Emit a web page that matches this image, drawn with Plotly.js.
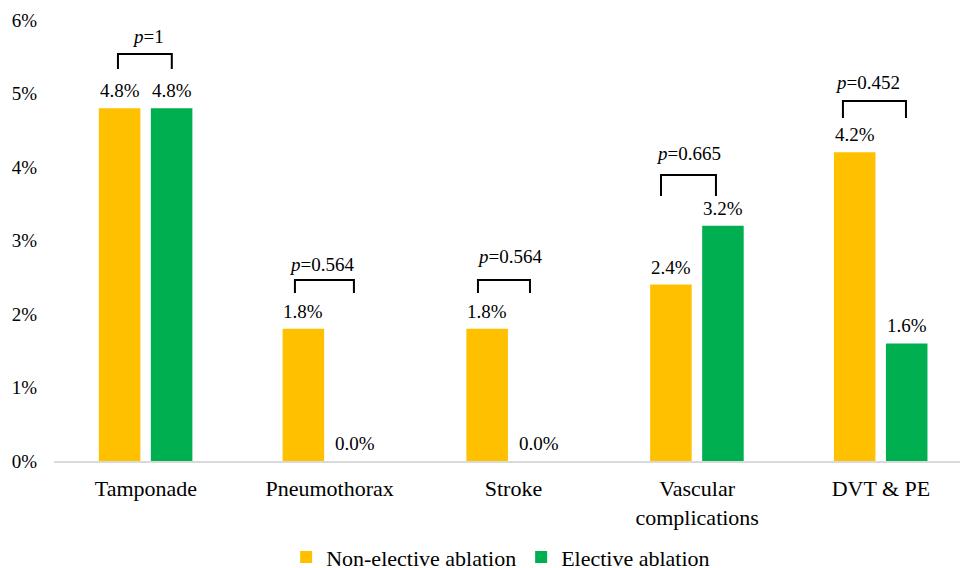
<!DOCTYPE html>
<html>
<head>
<meta charset="utf-8">
<script src="https://cdn.plot.ly/plotly-3.0.1.min.js"></script>
<style>
html,body{margin:0;padding:0;background:#fff;}
#chart{width:960px;height:568px;}
#chart svg text, #chart svg tspan{font-family:'Liberation Serif','Times New Roman',serif !important;}
</style>
</head>
<body>
<div id="chart"></div>
<script>
// ---- data ----
const categories = ["Tamponade", "Pneumothorax", "Stroke", "Vascular<br>complications", "DVT & PE"];
const nonElective = [4.8, 1.8, 1.8, 2.4, 4.2];
const elective = [4.8, 0.0, 0.0, 3.2, 1.6];
const seriesNames = ["Non-elective ablation", "Elective ablation"];
const pValues = ["1", "0.564", "0.564", "0.665", "0.452"];
// bracket geometry (x relative to category centre, y in % units)
const bracketLeft = [-0.152, -0.189, -0.193, -0.197, -0.207];
const bracketRight = [0.141, 0.132, 0.090, 0.102, 0.136];
const bracketTop = [5.537, 2.463, 2.463, 3.891, 4.898];
const bracketBottom = [5.333, 2.286, 2.286, 3.605, 4.667];
const pTextX = [0.011, -0.042, -0.019, -0.050, -0.076];
const pTextY = [5.769, 2.680, 2.776, 4.177, 5.143];

// ---- style ----
const serifFamily = "Liberation Serif";
const colors = ["#FFC000", "#00B050"];
const barWidth = 0.226;
const offsets = [-0.256, 0.027];

const idx = categories.map((c, i) => i);
const traces = [nonElective, elective].map((vals, s) => ({
  type: "bar",
  name: seriesNames[s],
  x: idx,
  y: vals,
  width: barWidth,
  offset: offsets[s],
  marker: {color: colors[s]},
  hoverinfo: "skip"
}));

const annotations = [];
const shapes = [];
[nonElective, elective].forEach((vals, s) => {
  vals.forEach((v, i) => {
    annotations.push({
      x: i + offsets[s] + barWidth / 2, y: v, xref: "x", yref: "y",
      text: v.toFixed(1) + "%", showarrow: false,
      yanchor: "bottom", yshift: 5,
      font: {family: serifFamily, size: 19, color: "black"}
    });
  });
});
categories.forEach((c, i) => {
  const x0 = i + bracketLeft[i], x1 = i + bracketRight[i];
  shapes.push({
    type: "path", xref: "x", yref: "y",
    path: `M ${x0} ${bracketBottom[i]} L ${x0} ${bracketTop[i]} L ${x1} ${bracketTop[i]} L ${x1} ${bracketBottom[i]}`,
    line: {color: "black", width: 2}
  });
  annotations.push({
    x: i + pTextX[i], y: pTextY[i], xref: "x", yref: "y",
    text: "<i>p</i>=" + pValues[i], showarrow: false,
    yanchor: "middle",
    font: {family: serifFamily, size: 19, color: "black"}
  });
});

const layout = {
  width: 960, height: 568,
  margin: {l: 54, r: 0, t: 20, b: 107, pad: 0, autoexpand: false},
  paper_bgcolor: "#fff", plot_bgcolor: "#fff",
  barmode: "group",
  showlegend: true,
  legend: {
    orientation: "h", x: 0.493, xanchor: "center", y: -0.218, yanchor: "middle",
    font: {family: serifFamily, size: 22, color: "black"},
    traceorder: "normal"
  },
  xaxis: {
    type: "linear",
    range: [-0.5, 4.43],
    tickmode: "array", tickvals: idx, ticktext: categories,
    showgrid: false, zeroline: false,
    showline: true, linecolor: "#d9d9d9", linewidth: 1.5,
    ticks: "",
    ticklabelstandoff: 7,
    tickfont: {family: serifFamily, size: 22, color: "black"},
    automargin: false,
    fixedrange: true
  },
  yaxis: {
    range: [0, 6], dtick: 1, tick0: 0,
    ticksuffix: "%",
    showgrid: false, zeroline: false, showline: false,
    ticks: "",
    ticklabelstandoff: 16,
    tickfont: {family: serifFamily, size: 19, color: "black"},
    automargin: false,
    fixedrange: true
  },
  shapes: shapes,
  annotations: annotations
};

Plotly.newPlot("chart", traces, layout, {displayModeBar: false});
</script>
</body>
</html>
